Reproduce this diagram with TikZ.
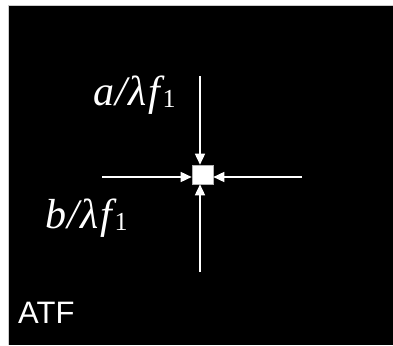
\documentclass[tikz,border=0pt]{standalone}
\usepackage{fontspec}
\setmainfont{Liberation Serif}
\newfontfamily\arialfont{Liberation Sans}
\usetikzlibrary{arrows.meta}
\tikzset{
  wline/.style={draw=white, line width=1.5pt, -{Triangle[length=11pt,width=10pt]}},
  lbl/.style={text=white, anchor=base west, inner sep=0pt},
}
\newcommand{\mylabel}[1]{\fontsize{42}{42}\selectfont\itshape #1\kern1.5pt/\kern1.5pt λ\kern1pt f\kern3pt\raisebox{-2pt}{\upshape\fontsize{26}{26}\selectfont 1}}
\begin{document}
\begin{tikzpicture}[x=1pt,y=-1pt]
\useasboundingbox (0,0) rectangle (393,345);
\fill[white] (0,0) rectangle (393,345);
\fill[black] (8,5) rectangle (393,345);
\draw[gray!40, line width=0.8pt] (8,345) -- (8,5) -- (393,5);
\node[draw=gray!60, fill=white, minimum width=21pt, minimum height=19pt, inner sep=0pt, line width=0.6pt] (c) at (202.5,174.5) {};
\coordinate (top) at (200,76);
\coordinate (bot) at (200,272);
\coordinate (lft) at (102,177);
\coordinate (rgt) at (302,177);
\draw[wline] (top) -- (top |- c.north);
\draw[wline] (bot) -- (bot |- c.south);
\draw[wline] (lft) -- (lft -| c.west);
\draw[wline] (rgt) -- (rgt -| c.east);
\node[lbl] (la) at (93,105) {\mylabel{a}};
\node[lbl] (lb) at (45,228) {\mylabel{b}};
\node[lbl] (atf) at (18,323) {\arialfont\fontsize{31}{31}\selectfont ATF};
\end{tikzpicture}
\end{document}
